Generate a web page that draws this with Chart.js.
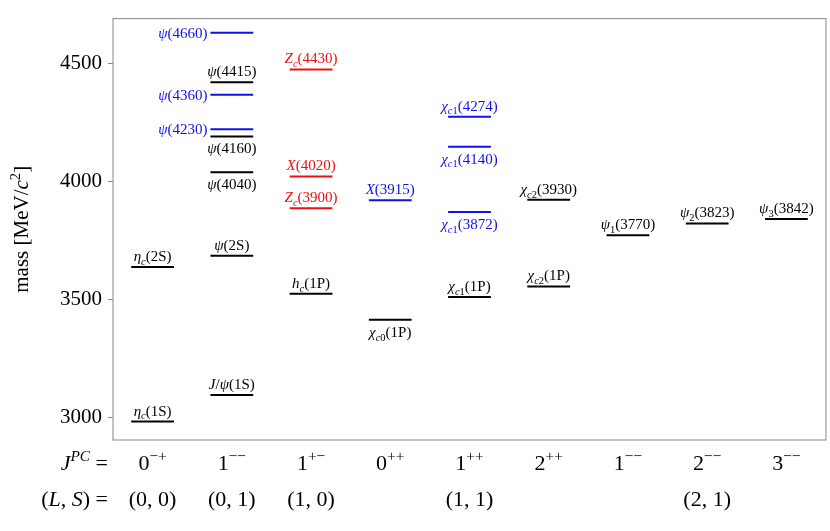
<!DOCTYPE html>
<html>
<head>
<meta charset="utf-8">
<script src="https://cdn.jsdelivr.net/npm/chart.js@4.4.0/dist/chart.umd.min.js"></script>
<style>
  body { margin: 0; background: #fff; }
  #wrap { width: 830px; height: 531px; }
</style>
</head>
<body>
<div id="wrap"><canvas id="spectrum"></canvas></div>
<script>
// Colonnes J^PC et (L,S)
const jpcLabels = ['0^{−+}', '1^{−−}', '1^{+−}', '0^{++}', '1^{++}', '2^{++}', '1^{−−}', '2^{−−}', '3^{−−}'];
const lsLabels = ['(0, 0)', '(0, 1)', '(1, 0)', '', '(1, 1)', '', '', '(2, 1)', ''];
const yTicks = [3000, 3500, 4000, 4500];

// Niveaux : colonne, masse (MeV), nom, position du nom, couleur
const levelColumn = [0, 0, 1, 1, 1, 1, 1, 1, 1, 1, 2, 2, 2, 2, 3, 3, 4, 4, 4, 4, 5, 5, 6, 7, 8];
const levelMass = [2984, 3638, 3097, 3686, 4039, 4191, 4222, 4368, 4421, 4630, 3525, 3887, 4022, 4475,
                   3415, 3921, 3511, 3871, 4148, 4275, 3556, 3923, 3773, 3823, 3842];
const levelName = ['η_{c}(1S)', 'η_{c}(2S)', 'J/ψ(1S)', 'ψ(2S)', 'ψ(4040)', 'ψ(4160)', 'ψ(4230)', 'ψ(4360)', 'ψ(4415)', 'ψ(4660)',
                   'h_{c}(1P)', 'Z_{c}(3900)', 'X(4020)', 'Z_{c}(4430)',
                   'χ_{c0}(1P)', 'X(3915)', 'χ_{c1}(1P)', 'χ_{c1}(3872)', 'χ_{c1}(4140)', 'χ_{c1}(4274)',
                   'χ_{c2}(1P)', 'χ_{c2}(3930)', 'ψ_{1}(3770)', 'ψ_{2}(3823)', 'ψ_{3}(3842)'];
const levelPlace = ['above', 'above', 'above', 'above', 'below', 'below', 'left', 'left', 'above', 'left',
                    'above', 'above', 'above', 'above',
                    'below', 'above', 'above', 'below', 'below', 'above',
                    'above', 'above', 'above', 'above', 'above'];
const levelColor = ['k', 'k', 'k', 'k', 'k', 'k', 'b', 'b', 'k', 'b',
                    'k', 'r', 'r', 'r',
                    'k', 'b', 'k', 'b', 'b', 'b',
                    'k', 'k', 'k', 'k', 'k'];

const palette = { k: '#000000', b: '#1010ee', r: '#ee1010' };
const halfWidth = 0.27;
const serif = '"Liberation Serif", "DejaVu Serif", serif';

const datasets = levelMass.map((m, i) => ({
    data: [{ x: levelColumn[i] + 0.5 - halfWidth, y: m }, { x: levelColumn[i] + 0.5 + halfWidth, y: m }],
    borderColor: palette[levelColor[i]],
    borderWidth: 2,
    pointRadius: 0,
    showLine: true
}));

// Découpe "η_{c}(1S)" en morceaux normal / indice / exposant
function parseRich(str) {
    const parts = [];
    let i = 0;
    while (i < str.length) {
        if ((str[i] === '_' || str[i] === '^') && str[i + 1] === '{') {
            const end = str.indexOf('}', i);
            parts.push({ t: str.slice(i + 2, end), mode: str[i] === '_' ? 'sub' : 'sup' });
            i = end + 1;
        } else {
            parts.push({ t: str[i], mode: 'n' });
            i++;
        }
    }
    return parts;
}

function isItalic(ch) { return /[a-zA-Zα-ωΑ-Ω]/.test(ch); }

// italicSet : si fourni, seuls ces caractères sont en italique
function drawRich(ctx, str, x, y, size, color, align, italicSet) {
    const pieces = [];
    parseRich(str).forEach(p => {
        const s = p.mode === 'n' ? size : size * 0.7;
        const dy = p.mode === 'sub' ? size * 0.25 : p.mode === 'sup' ? -size * 0.4 : 0;
        for (const ch of p.t) pieces.push({ ch, size: s, dy, it: isItalic(ch) });
    });
    let depth = 0;
    pieces.forEach(p => {
        if (p.ch === '(') depth++;
        if (p.ch === ')') depth--;
        if (depth > 0) p.it = false;
        if (italicSet !== undefined) p.it = italicSet.includes(p.ch);
    });
    let width = 0;
    pieces.forEach(p => {
        ctx.font = (p.it ? 'italic ' : '') + p.size + 'px ' + serif;
        p.w = ctx.measureText(p.ch).width;
        width += p.w;
    });
    let cx = align === 'right' ? x - width : align === 'center' ? x - width / 2 : x;
    ctx.fillStyle = color;
    ctx.textBaseline = 'alphabetic';
    ctx.textAlign = 'left';
    pieces.forEach(p => {
        ctx.font = (p.it ? 'italic ' : '') + p.size + 'px ' + serif;
        ctx.fillText(p.ch, cx, y + p.dy);
        cx += p.w;
    });
}

const labelPlugin = {
    id: 'labels',
    afterDraw(chart) {
        const ctx = chart.ctx;
        const xs = chart.scales.x, ys = chart.scales.y, area = chart.chartArea;
        ctx.save();
        ctx.strokeStyle = '#888';
        ctx.lineWidth = 1;
        ctx.strokeRect(area.left, area.top, area.right - area.left, area.bottom - area.top);

        levelMass.forEach((m, i) => {
            const cx = xs.getPixelForValue(levelColumn[i] + 0.5);
            const py = ys.getPixelForValue(m);
            const col = palette[levelColor[i]];
            if (levelPlace[i] === 'above') drawRich(ctx, levelName[i], cx, py - 6, 15, col, 'center');
            else if (levelPlace[i] === 'below') drawRich(ctx, levelName[i], cx, py + 17, 15, col, 'center');
            else drawRich(ctx, levelName[i], xs.getPixelForValue(levelColumn[i] + 0.5 - halfWidth) - 3, py + 5, 15, col, 'right');
        });

        const row1 = area.bottom + 30, row2 = area.bottom + 66;
        drawRich(ctx, 'J^{PC} =', 108, row1, 22, '#000', 'right');
        drawRich(ctx, '(L, S) =', 108, row2, 22, '#000', 'right', 'LS');
        jpcLabels.forEach((t, i) => {
            const cx = xs.getPixelForValue(i + 0.5);
            drawRich(ctx, t, cx, row1, 22, '#000', 'center');
            if (lsLabels[i]) {
                ctx.font = '22px ' + serif;
                ctx.fillStyle = '#000';
                ctx.textAlign = 'center';
                ctx.fillText(lsLabels[i], cx, row2);
            }
        });

        ctx.translate(28, (area.top + area.bottom) / 2);
        ctx.rotate(-Math.PI / 2);
        drawRich(ctx, 'mass [MeV/c^{2}]', 0, 0, 21, '#000', 'center', 'c');
        ctx.restore();
    }
};

new Chart(document.getElementById('spectrum'), {
    type: 'scatter',
    data: { datasets },
    options: {
        responsive: true,
        maintainAspectRatio: false,
        animation: false,
        layout: { padding: { top: -12, right: 4, bottom: 83, left: 0 } },
        plugins: { legend: { display: false }, tooltip: { enabled: false } },
        scales: {
            x: {
                type: 'linear', min: 0, max: 9,
                ticks: { display: false },
                grid: { display: false },
                border: { display: false }
            },
            y: {
                min: 2906, max: 4690,
                afterBuildTicks: scale => { scale.ticks = yTicks.map(v => ({ value: v })); },
                afterFit: scale => { scale.width = 113; },
                ticks: { color: '#000', font: { family: serif, size: 21 }, padding: 6, callback: v => String(v) },
                grid: { drawOnChartArea: false, tickLength: 5, color: '#888' },
                border: { display: false }
            }
        }
    },
    plugins: [labelPlugin]
});
</script>
</body>
</html>
